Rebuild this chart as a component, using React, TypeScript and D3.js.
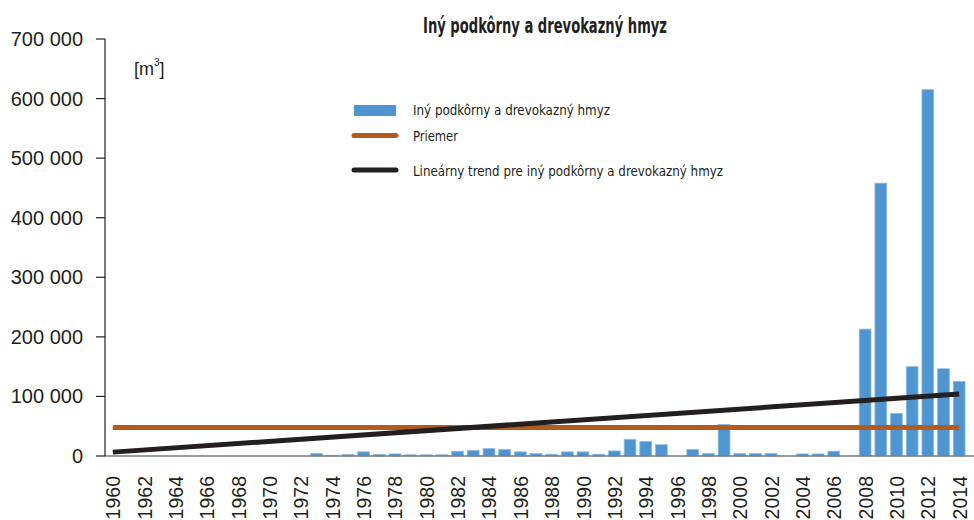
import React from "react";
import * as d3 from "d3";

const years: number[] = d3.range(1960, 2015);
const values: number[] = [
  0, 0, 0, 0, 0, 0, 0, 0, 0, 0, 0, 0, 0,
  4000, 1000, 2500, 7000, 2500, 3500, 2000, 2000, 2000, 8000, 9500, 12500,
  11000, 7000, 4000, 3000, 7000, 7000, 3000, 8500, 28000, 24500, 19000, 0,
  11000, 4000, 53000, 4000, 4000, 4000, 0, 3500, 3500, 8000, 0,
  213000, 458000, 71500, 150000, 615000, 146500, 125000,
];
const meanValue = 48000;
const trendYears: number[] = [1960, 2014];
const trendValues: number[] = [6500, 104000];
const yTicks: number[] = [0, 100000, 200000, 300000, 400000, 500000, 600000, 700000];
const xTickYears: number[] = years.filter((y) => y % 2 === 0);

const title = "Iný podkôrny a drevokazný hmyz";
const legendLabels: string[] = [
  "Iný podkôrny a drevokazný hmyz",
  "Priemer",
  "Lineárny trend pre iný podkôrny a drevokazný hmyz",
];

const BLUE = "#4f95d1";
const BLUE_STROKE = "#8dbbe4";
const ORANGE = "#b35a1e";
const BLACK = "#231f20";
const NARROW = "'Liberation Sans Narrow', 'DejaVu Sans Condensed', 'Roboto Condensed', sans-serif";
const SANS = "'Liberation Sans', Arial, Helvetica, sans-serif";

export default function App() {
  const W = 974;
  const H = 520;
  const x = d3
    .scaleBand<number>()
    .domain(years)
    .range([105, 967])
    .paddingInner(0.25)
    .paddingOuter(0.125);
  const y = d3.scaleLinear().domain([0, 700000]).range([456, 39]);
  const cx = (yr: number) => (x(yr) as number) + x.bandwidth() / 2;
  const fmt = (v: number) => d3.format(",")(v).replace(/,/g, " ");
  const line = d3
    .line<[number, number]>()
    .x((d) => cx(d[0]))
    .y((d) => y(d[1]));
  const trendPts: [number, number][] = trendYears.map((yr, i) => [yr, trendValues[i]]);
  const meanPts: [number, number][] = [
    [years[0], meanValue],
    [years[years.length - 1], meanValue],
  ];

  return (
    <svg
      width={W}
      height={H}
      style={{ position: "absolute", left: 0, top: 0, background: "#fff" }}
    >
      <text
        x={545}
        y={33}
        textAnchor="middle"
        fontFamily={NARROW}
        fontWeight="bold"
        fontSize={21}
        fill={BLACK}
        textLength={244}
        lengthAdjust="spacingAndGlyphs"
      >
        {title}
      </text>

      {/* bars */}
      {years.map((yr, i) =>
        values[i] > 0 ? (
          <rect
            key={yr}
            x={x(yr)}
            y={y(values[i])}
            width={x.bandwidth()}
            height={y(0) - y(values[i])}
            fill={BLUE}
            stroke={BLUE_STROKE}
            strokeWidth={0.8}
          />
        ) : null
      )}

      {/* x axis */}
      <line x1={105} x2={974} y1={y(0)} y2={y(0)} stroke="#7a7a7a" strokeWidth={1.3} />
      {xTickYears.map((yr) => (
        <text
          key={yr}
          transform={`translate(${cx(yr) + 7.5},476) rotate(-90)`}
          textAnchor="end"
          fontFamily={SANS}
          fontSize={19.5}
          fill={BLACK}
        >
          {yr}
        </text>
      ))}

      {/* y axis */}
      <line x1={105} x2={105} y1={y(700000)} y2={y(0)} stroke={BLACK} strokeWidth={1.2} />
      {yTicks.map((t) => (
        <g key={t}>
          <line x1={96} x2={105} y1={y(t)} y2={y(t)} stroke={BLACK} strokeWidth={1.2} />
          <text
            x={83}
            y={y(t) + 7}
            textAnchor="end"
            fontFamily={SANS}
            fontSize={20}
            fill={BLACK}
          >
            {fmt(t)}
          </text>
        </g>
      ))}
      <text x={134} y={75} fontFamily={SANS} fontSize={18} fill={BLACK}>
        [m
        <tspan dy={-9} fontSize={10}>3</tspan>
        <tspan dy={9}>]</tspan>
      </text>

      {/* mean and trend */}
      <path d={line(meanPts) || ""} stroke={ORANGE} strokeWidth={5} fill="none" />
      <path d={line(trendPts) || ""} stroke={BLACK} strokeWidth={5} fill="none" />

      {/* legend */}
      <rect x={354} y={105} width={42} height={11} fill={BLUE} />
      <line x1={354} x2={396} y1={135.5} y2={135.5} stroke={ORANGE} strokeWidth={5} strokeLinecap="round" />
      <line x1={354} x2={396} y1={170} y2={170} stroke={BLACK} strokeWidth={5} strokeLinecap="round" />
      {legendLabels.map((lbl, i) => (
        <text
          key={lbl}
          x={413}
          y={[115, 141, 176][i]}
          fontFamily={NARROW}
          fontSize={14.5}
          fill={BLACK}
          textLength={[197, 45, 310][i]}
          lengthAdjust="spacingAndGlyphs"
        >
          {lbl}
        </text>
      ))}
    </svg>
  );
}
